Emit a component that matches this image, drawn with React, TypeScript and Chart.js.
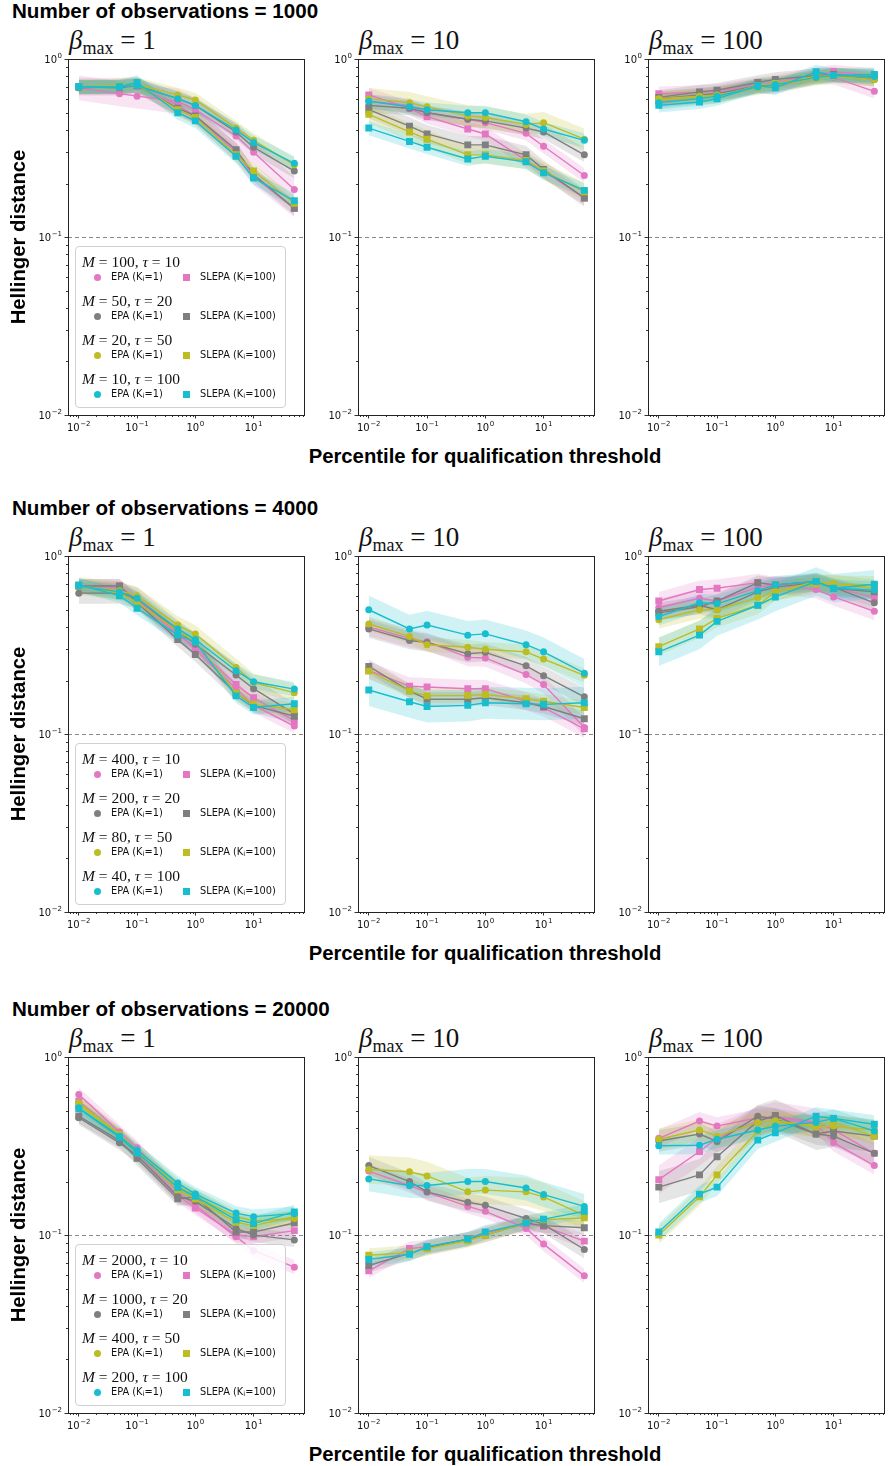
import React, { useEffect, useRef } from "react";
import { Chart, registerables } from "chart.js";

Chart.register(...registerables);

// ---------------- data ----------------
const PERCENTILES = [0.01, 0.05, 0.1, 0.5, 1, 5, 10, 50];
const OBSERVATIONS = [1000, 4000, 20000];
const BETA_MAX = [1, 10, 100];
const COLORS = ["#e377c2", "#7f7f7f", "#bcbd22", "#17becf"];
const LEGEND_M = [
  [100, 50, 20, 10],
  [400, 200, 80, 40],
  [2000, 1000, 400, 200],
];
const LEGEND_TAU = [10, 20, 50, 100];
const X_TICKS = [0.01, 0.1, 1, 10];
const Y_TICKS = [0.01, 0.1, 1];
const REFERENCE_LEVEL = 0.1;

// series order in each panel: pink EPA, pink SLEPA, gray EPA, gray SLEPA,
// olive EPA, olive SLEPA, cyan EPA, cyan SLEPA
const obs1000_beta1 = [
  [0.69, 0.64, 0.62, 0.58, 0.52, 0.37, 0.3, 0.185],
  [0.7, 0.7, 0.71, 0.55, 0.48, 0.3, 0.22, 0.145],
  [0.69, 0.7, 0.71, 0.6, 0.55, 0.39, 0.32, 0.235],
  [0.7, 0.69, 0.71, 0.53, 0.48, 0.31, 0.225, 0.145],
  [0.7, 0.71, 0.72, 0.63, 0.59, 0.41, 0.35, 0.255],
  [0.7, 0.7, 0.72, 0.52, 0.47, 0.29, 0.235, 0.155],
  [0.7, 0.7, 0.71, 0.6, 0.55, 0.4, 0.34, 0.26],
  [0.7, 0.7, 0.74, 0.5, 0.45, 0.285, 0.215, 0.16],
];
const obs1000_beta10 = [
  [0.58, 0.55, 0.5, 0.46, 0.44, 0.383, 0.324, 0.222],
  [0.63, 0.53, 0.475, 0.405, 0.38, 0.27, 0.235, 0.166],
  [0.55, 0.53, 0.5, 0.46, 0.45, 0.41, 0.39, 0.29],
  [0.52, 0.42, 0.38, 0.33, 0.33, 0.29, 0.24, 0.166],
  [0.6, 0.57, 0.54, 0.48, 0.47, 0.43, 0.44, 0.355],
  [0.49, 0.39, 0.355, 0.29, 0.29, 0.27, 0.235, 0.18],
  [0.58, 0.54, 0.52, 0.5, 0.5, 0.445, 0.405, 0.35],
  [0.41, 0.345, 0.32, 0.275, 0.285, 0.265, 0.23, 0.183],
];
const obs1000_beta100 = [
  [0.58, 0.62, 0.64, 0.7, 0.7, 0.79, 0.79, 0.66],
  [0.64, 0.65, 0.66, 0.72, 0.74, 0.82, 0.85, 0.81],
  [0.6, 0.63, 0.64, 0.71, 0.72, 0.8, 0.82, 0.77],
  [0.61, 0.655, 0.67, 0.74, 0.77, 0.81, 0.82, 0.79],
  [0.6, 0.62, 0.63, 0.69, 0.71, 0.78, 0.8, 0.77],
  [0.59, 0.61, 0.62, 0.71, 0.73, 0.8, 0.81, 0.8],
  [0.57, 0.6, 0.62, 0.7, 0.72, 0.79, 0.81, 0.8],
  [0.55, 0.575, 0.6, 0.71, 0.69, 0.85, 0.81, 0.82],
];
const obs4000_beta1 = [
  [0.67, 0.66, 0.58, 0.37, 0.3, 0.18, 0.145, 0.111],
  [0.68, 0.68, 0.57, 0.36, 0.31, 0.19, 0.16, 0.119],
  [0.62, 0.62, 0.58, 0.38, 0.32, 0.215, 0.18, 0.13],
  [0.68, 0.68, 0.55, 0.34, 0.28, 0.17, 0.145, 0.126],
  [0.68, 0.64, 0.6, 0.41, 0.365, 0.237, 0.195, 0.171],
  [0.68, 0.62, 0.55, 0.38, 0.33, 0.17, 0.147, 0.137],
  [0.68, 0.63, 0.58, 0.39, 0.34, 0.227, 0.197, 0.179],
  [0.69, 0.6, 0.51, 0.36, 0.33, 0.164, 0.141, 0.148],
];
const obs4000_beta10 = [
  [0.4, 0.345, 0.33, 0.27, 0.268, 0.216, 0.19, 0.109],
  [0.228, 0.186, 0.184, 0.18, 0.18, 0.153, 0.141, 0.107],
  [0.39, 0.336, 0.327, 0.283, 0.288, 0.242, 0.213, 0.162],
  [0.24, 0.175, 0.157, 0.157, 0.16, 0.15, 0.143, 0.122],
  [0.416, 0.354, 0.318, 0.308, 0.3, 0.29, 0.264, 0.214],
  [0.226, 0.175, 0.164, 0.165, 0.167, 0.158, 0.153, 0.141],
  [0.5, 0.39, 0.41, 0.36, 0.366, 0.318, 0.29, 0.22],
  [0.177, 0.152, 0.143, 0.145, 0.15, 0.148, 0.147, 0.15],
];
const obs4000_beta100 = [
  [0.515, 0.58, 0.56, 0.67, 0.69, 0.65, 0.59, 0.49],
  [0.56, 0.65, 0.66, 0.71, 0.68, 0.71, 0.67, 0.585],
  [0.49, 0.53, 0.5, 0.63, 0.67, 0.71, 0.67, 0.547],
  [0.48, 0.52, 0.56, 0.71, 0.69, 0.72, 0.66, 0.63],
  [0.44, 0.5, 0.5, 0.585, 0.63, 0.695, 0.7, 0.66],
  [0.31, 0.39, 0.447, 0.53, 0.63, 0.72, 0.695, 0.69],
  [0.457, 0.547, 0.54, 0.64, 0.69, 0.72, 0.66, 0.645],
  [0.29, 0.36, 0.43, 0.53, 0.59, 0.72, 0.66, 0.695],
];
const obs20000_beta1 = [
  [0.617, 0.38, 0.31, 0.175, 0.147, 0.098, 0.082, 0.066],
  [0.566, 0.37, 0.29, 0.167, 0.142, 0.1, 0.098, 0.106],
  [0.457, 0.33, 0.28, 0.165, 0.155, 0.109, 0.1, 0.094],
  [0.467, 0.34, 0.27, 0.16, 0.164, 0.104, 0.104, 0.117],
  [0.554, 0.37, 0.3, 0.19, 0.165, 0.127, 0.12, 0.124],
  [0.54, 0.365, 0.29, 0.18, 0.16, 0.118, 0.113, 0.127],
  [0.52, 0.36, 0.3, 0.196, 0.17, 0.133, 0.127, 0.132],
  [0.515, 0.355, 0.29, 0.185, 0.165, 0.122, 0.116, 0.135],
];
const obs20000_beta10 = [
  [0.229, 0.19, 0.174, 0.145, 0.136, 0.109, 0.089, 0.059],
  [0.063, 0.084, 0.086, 0.095, 0.103, 0.115, 0.112, 0.0925],
  [0.246, 0.2, 0.175, 0.153, 0.147, 0.124, 0.115, 0.083],
  [0.0675, 0.079, 0.085, 0.095, 0.1, 0.117, 0.113, 0.11],
  [0.234, 0.227, 0.215, 0.175, 0.179, 0.175, 0.164, 0.129],
  [0.077, 0.0797, 0.084, 0.093, 0.1, 0.117, 0.122, 0.125],
  [0.207, 0.19, 0.19, 0.2, 0.2, 0.184, 0.169, 0.145],
  [0.073, 0.078, 0.086, 0.095, 0.104, 0.117, 0.123, 0.136],
];
const obs20000_beta100 = [
  [0.35, 0.438, 0.41, 0.457, 0.46, 0.42, 0.331, 0.246],
  [0.205, 0.295, 0.35, 0.438, 0.466, 0.43, 0.39, 0.288],
  [0.338, 0.37, 0.336, 0.466, 0.45, 0.37, 0.36, 0.288],
  [0.186, 0.218, 0.276, 0.438, 0.47, 0.37, 0.385, 0.36],
  [0.346, 0.39, 0.36, 0.43, 0.44, 0.405, 0.41, 0.39],
  [0.1, 0.164, 0.218, 0.385, 0.43, 0.416, 0.43, 0.36],
  [0.318, 0.32, 0.346, 0.39, 0.41, 0.43, 0.453, 0.385],
  [0.104, 0.17, 0.186, 0.342, 0.376, 0.466, 0.453, 0.42],
];

// half-width of the shaded band of each series, in decades (log10 units)
const spread1000_beta1 = [0.07, 0.05, 0.04, 0.04, 0.04, 0.04, 0.04, 0.04];
const spread1000_beta10 = [0.04, 0.04, 0.04, 0.05, 0.06, 0.05, 0.04, 0.04];
const spread1000_beta100 = [0.04, 0.04, 0.04, 0.04, 0.04, 0.04, 0.04, 0.04];
const spread4000_beta1 = [0.04, 0.04, 0.06, 0.04, 0.05, 0.04, 0.04, 0.04];
const spread4000_beta10 = [0.05, 0.05, 0.05, 0.04, 0.04, 0.04, 0.08, 0.09];
const spread4000_beta100 = [0.05, 0.05, 0.05, 0.04, 0.05, 0.05, 0.05, 0.08];
const spread20000_beta1 = [0.04, 0.04, 0.04, 0.04, 0.04, 0.04, 0.04, 0.04];
const spread20000_beta10 = [0.04, 0.04, 0.05, 0.04, 0.08, 0.04, 0.07, 0.04];
const spread20000_beta100 = [0.05, 0.08, 0.06, 0.09, 0.06, 0.05, 0.05, 0.05];

const PANEL_VALUES = [
  [obs1000_beta1, obs1000_beta10, obs1000_beta100],
  [obs4000_beta1, obs4000_beta10, obs4000_beta100],
  [obs20000_beta1, obs20000_beta10, obs20000_beta100],
];
const PANEL_SPREADS = [
  [spread1000_beta1, spread1000_beta10, spread1000_beta100],
  [spread4000_beta1, spread4000_beta10, spread4000_beta100],
  [spread20000_beta1, spread20000_beta10, spread20000_beta100],
];

// ---------------- layout ----------------
const COL_LEFT = [68, 358, 648];
const ROW_TOP = [59, 556, 1057];
const PLOT_W = 240;
const PLOT_H = 356;
const AXIS_W = 52;
const PAD_TOP = 10;
const AXIS_H = 24;
const PAD_RIGHT = 2;

const hexToRgba = (hex: string, a: number) => {
  const n = parseInt(hex.slice(1), 16);
  return `rgba(${(n >> 16) & 255},${(n >> 8) & 255},${n & 255},${a})`;
};

const BASE_FONT = "10px 'DejaVu Sans'";
const EXP_FONT = "7px 'DejaVu Sans'";

// draws "10" with a raised exponent, anchored by (x, y) = (anchor, middle)
function drawPow(ctx: CanvasRenderingContext2D, v: number, x: number, y: number, align: "center" | "right") {
  const e = String(Math.round(Math.log10(v))).replace("-", "\u2212");
  ctx.font = BASE_FONT;
  const wb = ctx.measureText("10").width;
  ctx.font = EXP_FONT;
  const we = ctx.measureText(e).width;
  const total = wb + we + 0.5;
  const x0 = align === "center" ? x - total / 2 : x - total;
  ctx.textAlign = "left";
  ctx.textBaseline = "middle";
  ctx.font = BASE_FONT;
  ctx.fillText("10", x0, y + 1);
  ctx.font = EXP_FONT;
  ctx.fillText(e, x0 + wb + 0.5, y - 3);
}

const axisDecor = {
  id: "axisDecor",
  beforeDatasetsDraw(chart: any) {
    const { ctx, chartArea, scales } = chart;
    const py = Math.round(scales.y.getPixelForValue(REFERENCE_LEVEL)) + 0.5;
    ctx.save();
    ctx.strokeStyle = "#8a8a8a";
    ctx.lineWidth = 1;
    ctx.setLineDash([4, 3]);
    ctx.beginPath();
    ctx.moveTo(chartArea.left, py);
    ctx.lineTo(chartArea.right, py);
    ctx.stroke();
    ctx.restore();
  },
  afterDraw(chart: any) {
    const { ctx, chartArea, scales } = chart;
    const { left, right, top, bottom } = chartArea;
    ctx.save();
    ctx.strokeStyle = "#333";
    ctx.lineWidth = 1;
    // minor ticks
    ctx.beginPath();
    const xs = scales.x;
    for (let d = -3; d <= 2; d++) {
      for (let k = 2; k <= 9; k++) {
        const v = k * Math.pow(10, d);
        if (v < xs.min || v > xs.max) continue;
        const px = Math.round(xs.getPixelForValue(v)) + 0.5;
        ctx.moveTo(px, bottom);
        ctx.lineTo(px, bottom + 2);
      }
    }
    const ys = scales.y;
    for (let d = -2; d <= -1; d++) {
      for (let k = 2; k <= 9; k++) {
        const v = k * Math.pow(10, d);
        const py = Math.round(ys.getPixelForValue(v)) + 0.5;
        ctx.moveTo(left - 2, py);
        ctx.lineTo(left, py);
      }
    }
    ctx.stroke();
    // frame
    ctx.strokeStyle = "#222";
    ctx.strokeRect(Math.round(left) + 0.5, Math.round(top) + 0.5, Math.round(right - left) - 1, Math.round(bottom - top));
    // tick labels with superscript exponents, positioned by the scales
    ctx.fillStyle = "#111";
    xs.ticks.forEach((t: any) => drawPow(ctx, t.value, xs.getPixelForValue(t.value), bottom + 12, "center"));
    ys.ticks.forEach((t: any) => drawPow(ctx, t.value, left - 6, ys.getPixelForValue(t.value), "right"));
    ctx.restore();
  },
};

function Panel({ values, spreads, left, top }: { values: number[][]; spreads: number[]; left: number; top: number }) {
  const ref = useRef<HTMLCanvasElement>(null);
  const W = AXIS_W + PLOT_W + PAD_RIGHT;
  const H = PAD_TOP + PLOT_H + AXIS_H;
  useEffect(() => {
    const lines: any[] = [];
    const bands: any[] = [];
    const nSeries = values.length;
    for (let s = nSeries - 1; s >= 0; s--) {
      const color = COLORS[s >> 1];
      const square = s % 2 === 1;
      lines.push({
        data: PERCENTILES.map((x, i) => ({ x, y: values[s][i] })),
        borderColor: color,
        backgroundColor: color,
        borderWidth: 1.4,
        pointRadius: square ? 4.9 : 3.5,
        pointStyle: square ? "rect" : "circle",
        pointBorderWidth: 0,
        pointBackgroundColor: color,
        fill: false,
        order: 0,
      });
    }
    const base = lines.length;
    for (let s = nSeries - 1; s >= 0; s--) {
      const color = COLORS[s >> 1];
      const f = Math.pow(10, spreads[s]);
      const lowerIndex = base + bands.length;
      bands.push({
        data: PERCENTILES.map((x, i) => ({ x, y: values[s][i] / f })),
        borderWidth: 0,
        pointRadius: 0,
        borderColor: "rgba(0,0,0,0)",
        fill: false,
        order: 1,
      });
      bands.push({
        data: PERCENTILES.map((x, i) => ({ x, y: values[s][i] * f })),
        borderWidth: 0,
        pointRadius: 0,
        borderColor: "rgba(0,0,0,0)",
        backgroundColor: hexToRgba(color, 0.2),
        fill: lowerIndex,
        order: 1,
      });
    }
    const lmin = Math.log10(Math.min(...PERCENTILES));
    const lmax = Math.log10(Math.max(...PERCENTILES));
    const margin = 0.05 * (lmax - lmin);
    const chart = new Chart(ref.current as HTMLCanvasElement, {
      type: "line",
      data: { datasets: [...lines, ...bands] },
      options: {
        animation: false,
        responsive: false,
        devicePixelRatio: 1,
        events: [],
        layout: { padding: { top: PAD_TOP, right: PAD_RIGHT, left: 0, bottom: 0 } },
        plugins: { legend: { display: false }, tooltip: { enabled: false } },
        scales: {
          x: {
            type: "logarithmic",
            min: Math.pow(10, lmin - margin),
            max: Math.pow(10, lmax + margin),
            afterBuildTicks: (scale: any) => {
              scale.ticks = X_TICKS.map((v) => ({ value: v }));
            },
            afterFit: (scale: any) => {
              scale.height = AXIS_H;
            },
            ticks: { autoSkip: false, maxRotation: 0, callback: () => "" },
            grid: { drawOnChartArea: false, drawTicks: true, tickLength: 3.5, color: "#333" },
            border: { display: false },
          },
          y: {
            type: "logarithmic",
            min: 0.01,
            max: 1,
            afterBuildTicks: (scale: any) => {
              scale.ticks = Y_TICKS.map((v) => ({ value: v }));
            },
            afterFit: (scale: any) => {
              scale.width = AXIS_W;
            },
            ticks: { autoSkip: false, callback: () => "" },
            grid: { drawOnChartArea: false, drawTicks: true, tickLength: 3.5, color: "#333" },
            border: { display: false },
          },
        },
      },
      plugins: [axisDecor],
    } as any);
    return () => chart.destroy();
  }, []);
  return (
    <canvas
      ref={ref}
      width={W}
      height={H}
      style={{ position: "absolute", left: left - AXIS_W, top: top - PAD_TOP, width: W, height: H }}
    />
  );
}

function Legend({ row, top }: { row: number; top: number }) {
  const boxTop = top + 187;
  const marker = (color: string, square: boolean, x: number, y: number) => (
    <div
      style={{
        position: "absolute",
        left: x - 3.5,
        top: y - 3.5,
        width: 7,
        height: 7,
        background: color,
        borderRadius: square ? 0 : "50%",
      }}
    />
  );
  const entryText = (text: string, sub: string, x: number, y: number) => (
    <div
      style={{
        position: "absolute",
        left: x,
        top: y - 7,
        height: 14,
        lineHeight: "14px",
        fontFamily: "'DejaVu Sans', sans-serif",
        fontSize: 9.8,
        color: "#111",
        whiteSpace: "nowrap",
      }}
    >
      {text}
      <sub style={{ fontSize: 7, verticalAlign: "-1px" }}>i</sub>
      {sub}
    </div>
  );
  return (
    <div
      style={{
        position: "absolute",
        left: 75,
        top: boxTop,
        width: 211,
        height: 162,
        border: "1px solid #d0d0d0",
        borderRadius: 4,
        background: "rgba(255,255,255,0.85)",
        boxSizing: "border-box",
        zIndex: 2,
      }}
    >
      {LEGEND_TAU.map((tau, g) => (
        <React.Fragment key={g}>
          <div
            style={{
              position: "absolute",
              left: 6,
              top: 15 + 39 * g - 10,
              height: 20,
              lineHeight: "20px",
              fontFamily: "'Liberation Serif', serif",
              fontSize: 15.5,
              whiteSpace: "nowrap",
              color: "#111",
            }}
          >
            <i>M</i> = {LEGEND_M[row][g]}, <i>τ</i> = {tau}
          </div>
          {marker(COLORS[g], false, 21, 30 + 39 * g)}
          {entryText("EPA (K", "=1)", 35, 30 + 39 * g)}
          {marker(COLORS[g], true, 110, 30 + 39 * g)}
          {entryText("SLEPA (K", "=100)", 124, 30 + 39 * g)}
        </React.Fragment>
      ))}
    </div>
  );
}

export default function App() {
  return (
    <div
      style={{
        position: "absolute",
        left: 0,
        top: 0,
        width: 889,
        height: 1466,
        overflow: "hidden",
        background: "#fff",
      }}
    >
      {OBSERVATIONS.map((n, r) => {
        const top = ROW_TOP[r];
        return (
          <React.Fragment key={r}>
            <div
              style={{
                position: "absolute",
                left: 12,
                top: top - 59,
                height: 22,
                lineHeight: "22px",
                fontFamily: "'Liberation Sans', Arial, sans-serif",
                fontWeight: "bold",
                fontSize: 20.6,
                whiteSpace: "nowrap",
                color: "#000",
              }}
            >
              Number of observations = {n}
            </div>
            {BETA_MAX.map((b, c) => (
              <div
                key={"t" + c}
                style={{
                  position: "absolute",
                  left: COL_LEFT[c] + 1,
                  top: top - 34,
                  height: 30,
                  lineHeight: "30px",
                  fontFamily: "'Liberation Serif', serif",
                  fontSize: 27,
                  whiteSpace: "nowrap",
                  color: "#111",
                }}
              >
                <i>β</i>
                <span style={{ fontSize: 18, position: "relative", top: 5 }}>max</span> = {b}
              </div>
            ))}
            {BETA_MAX.map((b, c) => (
              <Panel
                key={"p" + c}
                values={PANEL_VALUES[r][c]}
                spreads={PANEL_SPREADS[r][c]}
                left={COL_LEFT[c]}
                top={top}
              />
            ))}
            <Legend row={r} top={top} />
            <div
              style={{
                position: "absolute",
                left: 0,
                width: 970,
                textAlign: "center",
                top: top + 397 - 12,
                height: 24,
                lineHeight: "24px",
                fontFamily: "'Liberation Sans', Arial, sans-serif",
                fontWeight: "bold",
                fontSize: 20.3,
                color: "#000",
              }}
            >
              Percentile for qualification threshold
            </div>
            <div
              style={{
                position: "absolute",
                left: 18 - 100,
                top: top + 178 - 12,
                width: 200,
                height: 24,
                lineHeight: "24px",
                textAlign: "center",
                transform: "rotate(-90deg)",
                fontFamily: "'Liberation Sans', Arial, sans-serif",
                fontWeight: "bold",
                fontSize: 20.3,
                color: "#000",
              }}
            >
              Hellinger distance
            </div>
          </React.Fragment>
        );
      })}
    </div>
  );
}
